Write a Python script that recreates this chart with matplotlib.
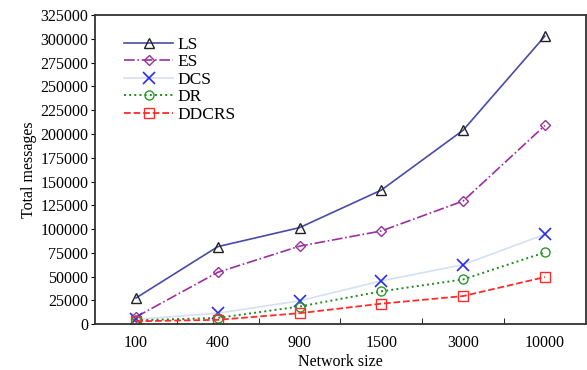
import numpy as np
import matplotlib.pyplot as plt

plt.rcParams['font.family'] = ['Liberation Serif', 'DejaVu Serif']

sizes = ['100', '400', '900', '1500', '3000', '10000']
ls_msgs = [27500, 81500, 101500, 141000, 204000, 303000]
es_msgs = [7500, 54500, 82000, 98000, 129500, 209000]
dcs_msgs = [5000, 11500, 24500, 45500, 62500, 94500]
dr_msgs = [4000, 6500, 18500, 34500, 47000, 75500]
ddcrs_msgs = [3000, 4500, 11500, 21500, 29500, 49500]

fig = plt.figure(figsize=(5.87, 3.70), dpi=100)
ax = fig.add_axes([0.162, 0.124, 0.836, 0.835])

x = np.arange(len(sizes))
ax.plot(x, ls_msgs, '-', color='#4a4aa8', lw=1.2, marker='^', ms=7.5,
        mfc='none', mec='#222222', mew=1.0, label='LS')
ax.plot(x, es_msgs, '-.', color='#9b2fa0', lw=1.2, marker='D', ms=5.5,
        mfc='none', mec='#9b2fa0', mew=1.0, label='ES')
ax.plot(x, dcs_msgs, '-', color='#d4e0f4', lw=1.2, marker='x', ms=8.5,
        mfc='none', mec='#2a2af0', mew=1.2, label='DCS')
ax.plot(x, dr_msgs, ':', color='#1f8a1f', lw=1.4, marker='o', ms=6.5,
        mfc='none', mec='#2a9a2a', mew=1.0, label='DR')
ax.plot(x, ddcrs_msgs, '--', color='#ff2a2a', lw=1.3, marker='s', ms=6.5,
        mfc='none', mec='#ff2a2a', mew=1.0, label='DDCRS')

ax.set_xlim(-0.5, 5.5)
ax.set_ylim(0, 325000)
ax.set_yticks(np.arange(0, 325001, 25000))
ax.set_xticks(x)
ax.set_xticklabels(sizes)
ax.set_xticks(x[:-1] + 0.5, minor=True)
ax.tick_params(axis='x', which='major', length=0, labelsize=11.5, pad=8)
ax.tick_params(axis='x', which='minor', direction='in', length=4)
ax.tick_params(axis='y', direction='out', length=3, labelsize=11.5, pad=2)
for sp in ax.spines.values():
    sp.set_linewidth(1.3)
    sp.set_color('#333333')

ax.set_xlabel('Network size', fontsize=11.5, labelpad=2)
ax.set_ylabel('Total messages', fontsize=11.5, labelpad=2)

ax.legend(loc='upper left', bbox_to_anchor=(0.035, 0.97), frameon=False,
          handlelength=2.8, fontsize=12.5, labelspacing=0.08,
          handletextpad=0.25, borderpad=0.2)

fig.savefig('out.png', dpi=100)
